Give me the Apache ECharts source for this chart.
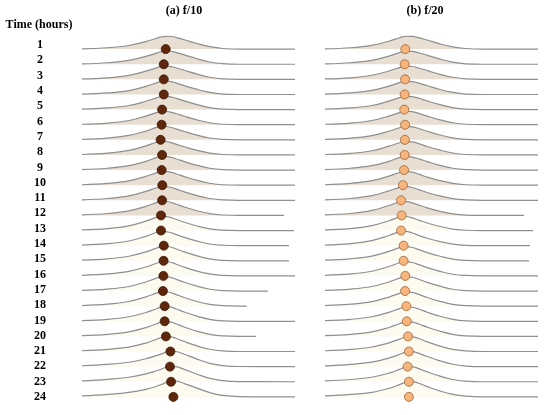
<!DOCTYPE html>
<html><head><meta charset="utf-8">
<script src="https://cdn.jsdelivr.net/npm/echarts@6/dist/echarts.min.js"></script>
<style>html,body{margin:0;padding:0;background:#fff}#c{width:550px;height:415px}</style>
</head><body><div id="c"></div>
<script>
// ---- data ----
const rowLabels = ['1','2','3','4','5','6','7','8','9','10','11','12','13','14','15','16','17','18','19','20','21','22','23','24'];
const panelTitles = ['(a) f/10', '(b) f/20'];
const axisTitle = 'Time (hours)';
const gridX = [0, 12, 22, 30, 35, 38, 41, 44, 48, 54, 60, 66, 74, 100];

const leftHeights = [
  [0.02,0.09,0.24,0.50,0.72,0.83,0.85,0.78,0.62,0.37,0.16,0.04,0,0],
  [0.02,0.10,0.25,0.52,0.74,0.85,0.87,0.79,0.62,0.36,0.15,0.04,0,0],
  [0.03,0.10,0.26,0.54,0.76,0.87,0.86,0.77,0.60,0.35,0.14,0.03,0,0],
  [0.03,0.10,0.26,0.54,0.77,0.88,0.87,0.77,0.59,0.34,0.14,0.03,0,0],
  [0.03,0.11,0.27,0.55,0.78,0.88,0.86,0.76,0.58,0.33,0.13,0.03,0,0],
  [0.03,0.11,0.28,0.57,0.80,0.89,0.85,0.74,0.56,0.32,0.13,0.03,0,0],
  [0.03,0.11,0.29,0.58,0.82,0.90,0.85,0.73,0.55,0.31,0.12,0.03,0,0],
  [0.03,0.12,0.30,0.60,0.84,0.91,0.85,0.72,0.54,0.30,0.12,0.03,0,0],
  [0.03,0.12,0.29,0.58,0.82,0.91,0.87,0.75,0.56,0.31,0.12,0.03,0,0],
  [0.03,0.12,0.29,0.58,0.82,0.92,0.88,0.76,0.57,0.32,0.13,0.03,0,0],
  [0.03,0.12,0.29,0.59,0.83,0.92,0.88,0.76,0.56,0.31,0.12,0.03,0,0],
  [0.04,0.13,0.30,0.60,0.85,0.94,0.89,0.76,0.56,0.31,0.12,0.03,0,0],
  [0.04,0.13,0.31,0.62,0.87,0.95,0.89,0.75,0.55,0.30,0.11,0.03,0,0],
  [0.04,0.13,0.31,0.62,0.87,0.95,0.89,0.75,0.55,0.30,0.11,0.03,0,0],
  [0.04,0.13,0.30,0.59,0.84,0.95,0.93,0.80,0.59,0.33,0.13,0.03,0,0],
  [0.04,0.13,0.30,0.59,0.84,0.95,0.92,0.79,0.58,0.32,0.13,0.03,0,0],
  [0.04,0.13,0.30,0.60,0.85,0.95,0.92,0.79,0.58,0.32,0.12,0.03,0,0],
  [0.04,0.13,0.31,0.61,0.86,0.96,0.92,0.78,0.57,0.31,0.12,0.03,0,0],
  [0.04,0.13,0.30,0.58,0.83,0.96,0.95,0.83,0.61,0.34,0.13,0.03,0,0],
  [0.05,0.14,0.30,0.58,0.84,0.97,0.96,0.84,0.62,0.34,0.13,0.03,0,0],
  [0.05,0.14,0.29,0.56,0.81,0.96,0.99,0.88,0.66,0.37,0.15,0.04,0,0],
  [0.06,0.15,0.29,0.52,0.73,0.88,1.02,1.00,0.82,0.50,0.22,0.07,0.01,0],
  [0.06,0.16,0.30,0.52,0.73,0.88,1.02,1.00,0.82,0.50,0.22,0.07,0.01,0],
  [0.07,0.17,0.30,0.50,0.70,0.86,1.02,1.04,0.88,0.58,0.28,0.10,0.02,0]
];
const rightHeights = [
  [0.02,0.09,0.25,0.52,0.75,0.85,0.84,0.76,0.60,0.35,0.15,0.04,0,0],
  [0.02,0.10,0.26,0.54,0.77,0.86,0.85,0.76,0.59,0.34,0.14,0.03,0,0],
  [0.03,0.10,0.27,0.55,0.78,0.87,0.85,0.75,0.58,0.33,0.14,0.03,0,0],
  [0.03,0.10,0.27,0.55,0.78,0.87,0.85,0.75,0.58,0.33,0.14,0.03,0,0],
  [0.03,0.11,0.27,0.56,0.79,0.88,0.86,0.75,0.57,0.33,0.13,0.03,0,0],
  [0.03,0.11,0.28,0.57,0.80,0.89,0.86,0.75,0.57,0.32,0.13,0.03,0,0],
  [0.03,0.11,0.28,0.57,0.80,0.89,0.86,0.75,0.57,0.32,0.13,0.03,0,0],
  [0.03,0.11,0.28,0.58,0.81,0.90,0.86,0.75,0.56,0.32,0.13,0.03,0,0],
  [0.03,0.12,0.29,0.58,0.82,0.90,0.86,0.74,0.56,0.31,0.12,0.03,0,0],
  [0.03,0.12,0.30,0.60,0.84,0.91,0.86,0.73,0.54,0.30,0.12,0.03,0,0],
  [0.03,0.12,0.31,0.62,0.86,0.92,0.85,0.71,0.52,0.29,0.11,0.03,0,0],
  [0.04,0.13,0.33,0.66,0.89,0.92,0.83,0.68,0.50,0.27,0.10,0.02,0,0],
  [0.04,0.13,0.33,0.65,0.89,0.93,0.84,0.69,0.50,0.27,0.10,0.02,0,0],
  [0.04,0.13,0.34,0.67,0.91,0.94,0.84,0.68,0.49,0.27,0.10,0.02,0,0],
  [0.04,0.13,0.31,0.62,0.87,0.94,0.88,0.74,0.54,0.30,0.11,0.03,0,0],
  [0.04,0.13,0.31,0.62,0.87,0.95,0.89,0.75,0.55,0.30,0.11,0.03,0,0],
  [0.04,0.13,0.30,0.60,0.85,0.95,0.91,0.78,0.57,0.32,0.12,0.03,0,0],
  [0.04,0.13,0.30,0.60,0.85,0.95,0.91,0.78,0.57,0.32,0.12,0.03,0,0],
  [0.04,0.13,0.30,0.59,0.84,0.96,0.93,0.81,0.60,0.33,0.13,0.03,0,0],
  [0.05,0.14,0.30,0.59,0.84,0.96,0.94,0.82,0.61,0.34,0.13,0.03,0,0],
  [0.05,0.14,0.30,0.57,0.82,0.96,0.97,0.86,0.64,0.36,0.14,0.04,0,0],
  [0.05,0.15,0.30,0.56,0.81,0.96,0.99,0.88,0.67,0.38,0.16,0.04,0,0],
  [0.06,0.15,0.30,0.57,0.82,0.98,0.99,0.87,0.65,0.37,0.15,0.04,0,0],
  [0.06,0.16,0.30,0.56,0.81,0.97,1.01,0.90,0.68,0.39,0.17,0.05,0,0]
];
const leftEnds  = [100,100,100,100,100,100,100,100,100,100,100,94.8,99.5,97.2,97.2,100,87.2,77.3,100,81.7,100,100,100,100];
const rightEnds = [100,100,100,100,100,100,100,100,100,100,100,93.4,97.7,96.2,95.8,100,100,100,100,100,100,100,100,100];
const leftDots  = [39.3,38.4,38.4,38.4,37.6,37.4,36.9,37.6,37.4,37.7,37.6,37.1,37.1,38.4,38.3,38.2,38.0,38.8,38.8,39.4,41.5,41.3,41.8,42.9];
const rightDots = [37.7,37.4,37.6,37.4,37.2,37.6,37.5,37.4,37.1,36.6,35.7,36.0,35.7,36.9,36.9,37.7,37.6,38.2,38.4,39.0,39.4,38.8,39.4,39.4];

// ---- chart ----
const chart = echarts.init(document.getElementById('c'), null, {renderer: 'canvas'});
const N = rowLabels.length;
const serif = '"Liberation Serif", "Times New Roman", serif';

function panelSeries(gi, heights, ends, dots, dotColor, dotBorder) {
  const out = [];
  heights.forEach((h, i) => {
    const base = N - 1 - i;
    const pts = [];
    gridX.forEach((x, k) => { if (x < ends[i]) pts.push([x, base + h[k]]); });
    pts.push([ends[i], base]);
    out.push({
      type: 'line', xAxisIndex: gi, yAxisIndex: gi, data: pts,
      smooth: 0.4, showSymbol: false, silent: true, z: 2,
      lineStyle: {color: '#8f8f8f', width: 1.2},
      areaStyle: {color: i < 12 ? '#e8ded1' : '#fdfaf0', opacity: 1, origin: base}
    });
  });
  out.push({
    type: 'scatter', xAxisIndex: gi, yAxisIndex: gi, z: 5, silent: true,
    symbolSize: 9,
    data: dots.map((d, i) => [d, N - 1 - i]),
    itemStyle: {color: dotColor, borderColor: dotBorder, borderWidth: 0.8, opacity: 1}
  });
  return out;
}

const gridTop = 34, gridBottom = 3;
const option = {
  animation: false,
  grid: [
    {left: 82, width: 213, top: gridTop, bottom: gridBottom},
    {left: 325, width: 213, top: gridTop, bottom: gridBottom},
    {left: 40, width: 1, top: 37.4, bottom: 10.4}
  ],
  xAxis: [
    {gridIndex: 0, type: 'value', min: 0, max: 100, show: false},
    {gridIndex: 1, type: 'value', min: 0, max: 100, show: false},
    {gridIndex: 2, type: 'value', min: 0, max: 1, show: false}
  ],
  yAxis: [
    {gridIndex: 0, type: 'value', min: -1, max: 24, show: false},
    {gridIndex: 1, type: 'value', min: -1, max: 24, show: false},
    {gridIndex: 2, type: 'category', inverse: true, data: rowLabels, boundaryGap: true,
     axisLine: {show: false}, axisTick: {show: false}, splitLine: {show: false},
     axisLabel: {margin: 0, align: 'center', fontFamily: serif, fontWeight: 'bold', fontSize: 12, color: '#000', interval: 0}}
  ],
  graphic: [
    {type: 'text', x: 39, y: 25, style: {text: axisTitle, textAlign: 'center', textVerticalAlign: 'middle', font: 'bold 12px ' + serif, fill: '#000'}},
    {type: 'text', x: 184, y: 11, style: {text: panelTitles[0], textAlign: 'center', textVerticalAlign: 'middle', font: 'bold 12px ' + serif, fill: '#000'}},
    {type: 'text', x: 425, y: 11, style: {text: panelTitles[1], textAlign: 'center', textVerticalAlign: 'middle', font: 'bold 12px ' + serif, fill: '#000'}}
  ],
  series: [
    ...panelSeries(0, leftHeights, leftEnds, leftDots, '#5e260a', '#3a1604'),
    ...panelSeries(1, rightHeights, rightEnds, rightDots, '#f7b47c', '#9a6436')
  ]
};
chart.setOption(option);
</script>
</body></html>
